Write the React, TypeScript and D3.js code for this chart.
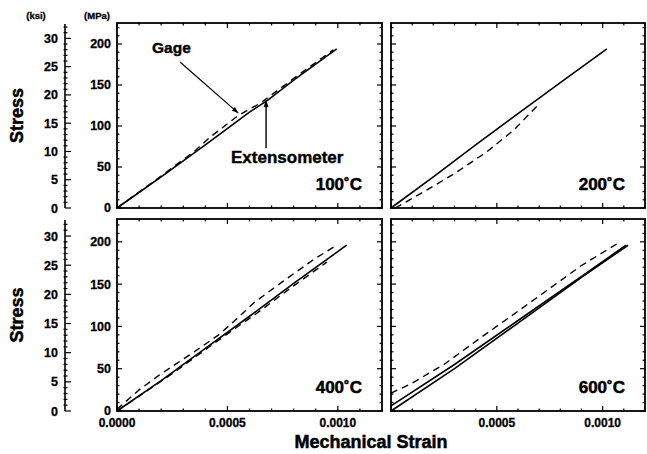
import React from "react";
import * as d3 from "d3";

type Pt = [number, number];

// Strain (mm/mm) vs stress (MPa)
const solid100: Pt[] = [[0, 0], [0.0002, 38], [0.0004, 77], [0.0006, 117], [0.00068, 131], [0.0008, 156], [0.000995, 194]];
const dashed100: Pt[] = [[0, 0], [0.0002, 39], [0.00035, 69], [0.00042, 86], [0.00055, 113], [0.00065, 128], [0.0008, 158], [0.00098, 193]];

const solid200: Pt[] = [[0, 0], [0.0002, 38], [0.0004, 77], [0.0006, 115], [0.0008, 153], [0.00102, 194]];
const dashed200: Pt[] = [[0.00002, 0], [0.00015, 19], [0.0003, 42], [0.00045, 68], [0.00058, 95], [0.0007, 127]];

const solid400: Pt[] = [[0, 0], [0.0002, 36], [0.0004, 74], [0.0006, 112], [0.0008, 151], [0.00104, 196]];
const dashed400a: Pt[] = [[0, 2], [0.0001, 25], [0.0002, 44], [0.00035, 70], [0.00046, 90], [0.00053, 106], [0.00062, 128], [0.00075, 153], [0.00089, 179], [0.000995, 196]];
const dashed400b: Pt[] = [[0, 0], [0.00025, 44], [0.00045, 82], [0.00063, 115], [0.0008, 148], [0.00095, 176]];

const solid600a: Pt[] = [[0, 0], [0.0003, 50], [0.0006, 104], [0.0009, 158], [0.00112, 196]];
const solid600b: Pt[] = [[0, 6], [0.0003, 55], [0.0006, 107], [0.0009, 159], [0.00111, 196]];
const dashed600: Pt[] = [[0, 21], [0.0001, 33], [0.00025, 55], [0.00042, 86], [0.0006, 118], [0.00075, 145], [0.0009, 172], [0.00107, 198]];

const temperatures = ["100˚C", "200˚C", "400˚C", "600˚C"];
const xMajorTicks = [0, 0.0005, 0.001];
const xTickLabels = ["0.0000", "0.0005", "0.0010"];
const yMajorTicks = [0, 50, 100, 150, 200];
const ksiMajorTicks = [0, 5, 10, 15, 20, 25, 30];
const KSI_TO_MPA = 6.894757;

const FONT = "'Liberation Sans', Arial, Helvetica, sans-serif";

type Panel = {
  x0: number; x1: number; y0: number; y1: number; yMax: number;
  label: string; solids: Pt[][]; dashes: Pt[][];
  leftAxis: boolean; bottomAxis: boolean; firstXLabel: boolean;
};

const panels: Panel[] = [
  { x0: 117, x1: 382, y0: 23, y1: 208, yMax: 225.6, label: temperatures[0], solids: [solid100], dashes: [dashed100], leftAxis: true, bottomAxis: false, firstXLabel: true },
  { x0: 391, x1: 645, y0: 23, y1: 208, yMax: 225.6, label: temperatures[1], solids: [solid200], dashes: [dashed200], leftAxis: false, bottomAxis: false, firstXLabel: false },
  { x0: 117, x1: 382, y0: 219, y1: 411, yMax: 227, label: temperatures[2], solids: [solid400], dashes: [dashed400a, dashed400b], leftAxis: true, bottomAxis: true, firstXLabel: true },
  { x0: 391, x1: 645, y0: 219, y1: 411, yMax: 227, label: temperatures[3], solids: [solid600a, solid600b], dashes: [dashed600], leftAxis: false, bottomAxis: true, firstXLabel: false },
];

function PanelView({ p, idx }: { p: Panel; idx: number }) {
  const x = d3.scaleLinear().domain([0, 0.0012]).range([p.x0, p.x1]);
  const y = d3.scaleLinear().domain([0, p.yMax]).range([p.y1, p.y0]);
  const line = d3.line<Pt>().x(d => x(d[0])).y(d => y(d[1]));
  const xMinor = d3.range(0, 13).map(i => i * 0.0001);
  const yMinor = d3.range(0, Math.floor(p.yMax / 10) + 1).map(i => i * 10);
  const ticks: JSX.Element[] = [];
  xMinor.forEach((v, i) => {
    const major = xMajorTicks.some(m => Math.abs(m - v) < 1e-9);
    const L = major ? 5 : 2.5;
    const px = x(v);
    ticks.push(<line key={"xb" + i} x1={px} x2={px} y1={p.y1} y2={p.y1 - L} />);
    ticks.push(<line key={"xt" + i} x1={px} x2={px} y1={p.y0} y2={p.y0 + L} />);
  });
  yMinor.forEach((v, i) => {
    const major = v % 50 === 0;
    const L = major ? 5 : 2.5;
    const py = y(v);
    ticks.push(<line key={"yl" + i} x1={p.x0} x2={p.x0 + L} y1={py} y2={py} />);
    ticks.push(<line key={"yr" + i} x1={p.x1} x2={p.x1 - L} y1={py} y2={py} />);
  });

  const ksiY = d3.scaleLinear().domain([0, p.yMax / KSI_TO_MPA]).range([p.y1, p.y0]);
  const ksiMinor = d3.range(0, Math.floor(p.yMax / KSI_TO_MPA) + 1);
  const sy = (p.y0 + p.y1) / 2;

  return (
    <g>
      <g stroke="#000" strokeWidth={1.2}>{ticks}</g>
      <rect x={p.x0} y={p.y0} width={p.x1 - p.x0} height={p.y1 - p.y0} fill="none" stroke="#000" strokeWidth={1.8} />
      <g fill="none" stroke="#000">
        {p.solids.map((s, i) => <path key={"s" + i} d={line(s) || ""} strokeWidth={1.6} />)}
        {p.dashes.map((s, i) => <path key={"d" + i} d={line(s) || ""} strokeWidth={1.4} strokeDasharray="7,5" />)}
      </g>
      <text x={p.x1 - 20} y={p.y1 - 18} textAnchor="end" fontFamily={FONT} fontWeight="bold" fontSize={17} stroke="#000" strokeWidth={0.5}>{p.label}</text>
      {p.leftAxis && (
        <g fontFamily={FONT} fontWeight="bold" fontSize={12.5} textAnchor="end" stroke="#000" strokeWidth={0.3}>
          {yMajorTicks.map(v => (
            <text key={"yt" + v} x={111} y={y(v) + (v === 0 ? 3.5 : 4.5)}>{v}</text>
          ))}
          <line x1={65} x2={65} y1={ksiY(0)} y2={p.y0 + 1} stroke="#000" strokeWidth={1.6} />
          {ksiMinor.map(k => {
            const major = k % 5 === 0;
            return <line key={"kt" + k} x1={major ? 65 : 63.5} x2={major ? 71 : 67.5} y1={ksiY(k)} y2={ksiY(k)} stroke="#000" strokeWidth={1.2} />;
          })}
          {ksiMajorTicks.map(k => (
            <text key={"kl" + k} x={58} y={ksiY(k) + 4.5}>{k}</text>
          ))}
          <text x={23} y={sy} textAnchor="middle" fontSize={18} strokeWidth={0.5} transform={`rotate(-90, 23, ${sy})`}>Stress</text>
        </g>
      )}
      {p.bottomAxis && (
        <g fontFamily={FONT} fontWeight="bold" fontSize={12} textAnchor="middle" stroke="#000" strokeWidth={0.3}>
          {xMajorTicks.map((v, i) => (p.firstXLabel || i > 0) ? (
            <text key={"xl" + i} x={x(v)} y={p.y1 + 16}>{xTickLabels[i]}</text>
          ) : null)}
        </g>
      )}
      {idx === 0 && (() => {
        const gTip: Pt = [0.000548, 116];
        const eTip: Pt = [0.000675, 131];
        return (
          <g fontFamily={FONT} fontWeight="bold">
            <text x={152} y={53} fontSize={15.5} stroke="#000" strokeWidth={0.4}>Gage</text>
            <line x1={180} y1={62} x2={x(gTip[0])} y2={y(gTip[1])} stroke="#000" strokeWidth={1.2} markerEnd="url(#arrow)" />
            <text x={231} y={163} fontSize={17} stroke="#000" strokeWidth={0.4}>Extensometer</text>
            <line x1={x(eTip[0])} y1={148} x2={x(eTip[0])} y2={y(eTip[1])} stroke="#000" strokeWidth={1.4} markerEnd="url(#arrow)" />
          </g>
        );
      })()}
    </g>
  );
}

export default function App() {
  return (
    <svg width={647} height={454} style={{ position: "absolute", left: 0, top: 0, background: "#fff" }}>
      <defs>
        <marker id="arrow" viewBox="0 0 10 10" refX={9} refY={5} markerWidth={7} markerHeight={7} orient="auto" markerUnits="userSpaceOnUse">
          <path d="M0,1.5 L10,5 L0,8.5 Z" fill="#000" />
        </marker>
      </defs>
      <rect x={0} y={0} width={647} height={454} fill="#fff" />
      <g fontFamily={FONT} fontWeight="bold" fontSize={9.5} textAnchor="middle" stroke="#000" strokeWidth={0.3}>
        <text x={36} y={19}>(ksi)</text>
        <text x={97} y={19}>(MPa)</text>
      </g>
      {panels.map((p, i) => <PanelView key={i} p={p} idx={i} />)}
      <text x={371} y={448} textAnchor="middle" fontFamily={FONT} fontWeight="bold" fontSize={18} stroke="#000" strokeWidth={0.5}>Mechanical Strain</text>
    </svg>
  );
}
